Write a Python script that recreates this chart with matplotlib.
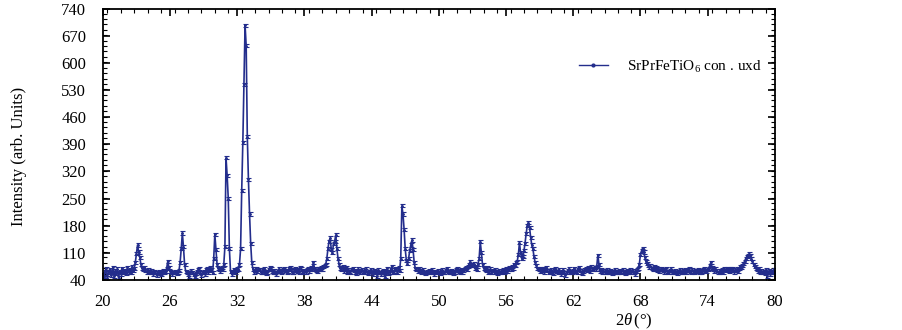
import numpy as np
import matplotlib
matplotlib.use("Agg")
import matplotlib.pyplot as plt
from matplotlib.ticker import MultipleLocator
from matplotlib.lines import Line2D

plt.rcParams['font.family'] = ['Liberation Serif', 'DejaVu Serif']
plt.rcParams['mathtext.fontset'] = 'custom'
plt.rcParams['mathtext.rm'] = 'Liberation Serif'
plt.rcParams['mathtext.it'] = 'Liberation Serif:italic'

# scan grid: 20-80 deg, step 0.1 deg
two_theta_start = 20.0
two_theta_step = 0.1

intensity = [
    55, 48, 62, 70, 45, 58, 66, 52, 60, 72,     # 20
    50, 63, 57, 68, 46, 61, 55, 70, 58, 64,     # 21
    62, 56, 72, 60, 66, 58, 74, 63, 70, 85,     # 22
    108, 130, 112, 98, 80, 70, 66, 72, 64, 60,  # 23
    66, 62, 58, 64, 60, 55, 62, 58, 52, 60,     # 24
    62, 57, 54, 60, 65, 58, 62, 70, 88, 72,     # 25
    62, 58, 54, 60, 62, 58, 56, 60, 64, 85,     # 26
    120, 161, 125, 80, 62, 58, 55, 50, 58, 64,  # 27
    60, 54, 48, 56, 62, 66, 70, 58, 52, 60,     # 28
    62, 55, 66, 70, 60, 64, 72, 66, 58, 95,     # 29
    158, 118, 80, 70, 66, 62, 72, 68, 80, 125,  # 30
    355, 310, 250, 120, 62, 55, 62, 66, 60, 64, # 31
    70, 68, 80, 120, 270, 395, 545, 698, 645, 410,  # 32
    300, 210, 135, 85, 68, 60, 64, 70, 62, 66,  # 33
    66, 60, 58, 64, 70, 62, 56, 60, 66, 72,     # 34
    68, 62, 58, 64, 60, 55, 62, 68, 64, 58,     # 35
    62, 66, 70, 64, 58, 62, 68, 72, 66, 60,     # 36
    58, 64, 70, 62, 66, 60, 72, 68, 62, 58,     # 37
    64, 60, 66, 70, 62, 68, 72, 66, 85, 70,     # 38
    64, 62, 68, 70, 66, 72, 68, 74, 78, 80,     # 39
    95, 120, 140, 148, 118, 110, 135, 140, 156, 120,  # 40
    95, 80, 70, 66, 75, 62, 68, 72, 60, 66,     # 41
    62, 58, 66, 70, 64, 60, 56, 62, 68, 64,     # 42
    60, 66, 62, 58, 64, 68, 60, 56, 62, 66,     # 43
    60, 55, 64, 58, 62, 50, 66, 60, 54, 62,     # 44
    64, 58, 48, 62, 70, 56, 60, 66, 75, 58,     # 45
    62, 70, 66, 58, 72, 64, 95, 231, 210, 170,  # 46
    120, 90, 82, 95, 115, 130, 143, 118, 85, 70,  # 47
    66, 62, 70, 64, 58, 62, 66, 60, 56, 62,     # 48
    60, 64, 58, 62, 66, 60, 55, 62, 58, 64,     # 49
    60, 56, 62, 66, 60, 58, 64, 70, 62, 60,     # 50
    58, 64, 62, 56, 60, 66, 70, 64, 62, 58,     # 51
    66, 60, 64, 70, 72, 68, 75, 80, 87, 78,     # 52
    76, 82, 70, 74, 66, 80, 95, 139, 110, 80,   # 53
    70, 66, 64, 72, 60, 62, 68, 58, 64, 60,     # 54
    66, 62, 56, 60, 64, 58, 62, 66, 60, 64,     # 55
    70, 62, 66, 72, 68, 75, 70, 80, 78, 85,     # 56
    88, 105, 136, 110, 95, 100, 115, 135, 160, 180,  # 57
    188, 175, 150, 130, 120, 100, 85, 78, 70, 66,    # 58
    62, 68, 64, 70, 60, 66, 72, 64, 58, 62,     # 59
    66, 60, 56, 64, 70, 62, 58, 66, 60, 55,     # 60
    62, 66, 58, 52, 60, 64, 68, 62, 58, 60,     # 61
    64, 70, 62, 58, 66, 72, 64, 60, 56, 62,     # 62
    66, 70, 64, 72, 68, 62, 74, 70, 66, 72,     # 63
    68, 75, 104, 80, 62, 66, 58, 64, 60, 62,    # 64
    66, 60, 58, 64, 62, 56, 60, 66, 62, 58,     # 65
    60, 64, 58, 62, 66, 60, 56, 62, 64, 58,     # 66
    62, 66, 60, 64, 58, 55, 62, 66, 70, 80,     # 67
    105, 115, 122, 112, 98, 88, 82, 78, 72, 76, # 68
    70, 68, 74, 66, 72, 64, 70, 62, 68, 66,     # 69
    64, 60, 66, 70, 62, 58, 64, 68, 60, 62,     # 70
    58, 64, 60, 56, 62, 66, 60, 58, 64, 62,     # 71
    66, 60, 64, 70, 62, 58, 66, 62, 60, 64,     # 72
    62, 66, 60, 64, 58, 62, 66, 70, 64, 62,     # 73
    66, 70, 78, 85, 72, 66, 62, 68, 64, 60,     # 74
    58, 64, 62, 66, 60, 68, 64, 70, 66, 62,     # 75
    68, 64, 70, 66, 60, 64, 68, 62, 70, 74,     # 76
    72, 78, 82, 88, 95, 100, 104, 107, 102, 95, # 77
    88, 80, 74, 70, 66, 62, 68, 60, 64, 58,     # 78
    62, 56, 66, 50, 60, 64, 54, 62, 58, 66,     # 79
    60,                                         # 80
]
two_theta = two_theta_start + two_theta_step * np.arange(len(intensity))
intensity_err = [4] * len(intensity)

x_ticks = [20, 26, 32, 38, 44, 50, 56, 62, 68, 74, 80]
y_ticks = [40, 110, 180, 250, 320, 390, 460, 530, 600, 670, 740]
series_label = 'SrPrFeTiO$_6$ con . uxd'

fig = plt.figure(figsize=(9.02, 3.30), dpi=100)
ax = fig.add_axes([0.114, 0.152, 0.745, 0.821])

color = '#232d8c'
ax.errorbar(two_theta, intensity, yerr=intensity_err, color=color, lw=1.2,
            elinewidth=0.8, capsize=1.8, capthick=0.8, marker='.', ms=2,
            label=series_label)

ax.set_xlim(20, 80)
ax.set_ylim(40, 740)
ax.set_xticks(x_ticks)
ax.set_yticks(y_ticks)
ax.xaxis.set_minor_locator(MultipleLocator(1.2))
ax.yaxis.set_minor_locator(MultipleLocator(14))
ax.tick_params(which='both', direction='in', top=True, right=True, labelsize=12)
ax.tick_params(axis='y', pad=12)
ax.tick_params(axis='x', pad=10)
ax.tick_params(which='major', length=5, width=1.2)
ax.tick_params(which='minor', length=3, width=0.8)
for s in ax.spines.values():
    s.set_linewidth(1.3)

ax.set_ylabel('Intensity (arb. Units)', fontsize=12)
ax.yaxis.set_label_coords(-0.113, 0.454)
ax.set_xlabel(r'$\mathit{2\theta}\,$(°)', fontsize=12)
ax.xaxis.set_label_coords(0.79, -0.118)

handle = Line2D([], [], color=color, lw=1.0, marker='.', ms=4)
ax.legend([handle], [series_label], loc='center left',
          bbox_to_anchor=(0.708, 0.786), frameon=False, fontsize=11,
          borderpad=0, borderaxespad=0, handlelength=1.9, handletextpad=1.3)

fig.savefig('out.png', dpi=100)
